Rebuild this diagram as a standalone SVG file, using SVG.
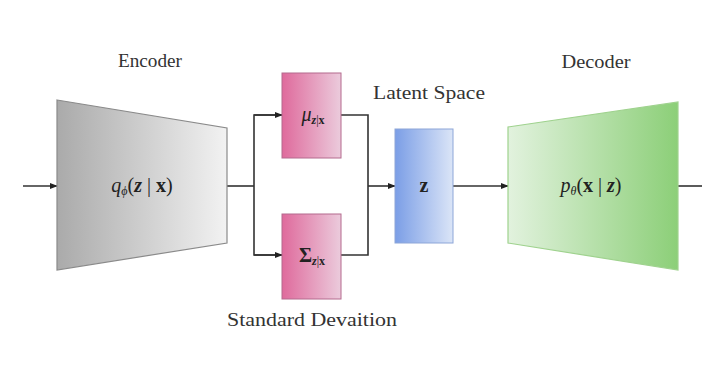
<svg xmlns="http://www.w3.org/2000/svg" width="722" height="386" viewBox="0 0 722 386">
<style>
.lbl{font-family:"Liberation Serif","DejaVu Serif",serif;font-size:18px;fill:#333;text-anchor:middle}
.math{font-family:"Liberation Serif","DejaVu Serif",serif;font-size:20px;fill:#222;text-anchor:middle}
.sub{font-size:12px}
.conn{fill:none;stroke:#333;stroke-width:1.6}
</style>
<defs>
<linearGradient id="gEnc" x1="0" x2="1" y1="0" y2="0"><stop offset="0" stop-color="#aaaaaa"/><stop offset="1" stop-color="#f2f2f2"/></linearGradient>
<linearGradient id="gPink" x1="0" x2="1" y1="0" y2="0"><stop offset="0" stop-color="#df6a9c"/><stop offset="1" stop-color="#ebcbdc"/></linearGradient>
<linearGradient id="gBlue" x1="0" x2="1" y1="0" y2="0"><stop offset="0" stop-color="#7b9ee6"/><stop offset="1" stop-color="#dbe5f7"/></linearGradient>
<linearGradient id="gGreen" x1="0" x2="1" y1="0" y2="0"><stop offset="0" stop-color="#e2f2de"/><stop offset="1" stop-color="#8ccf78"/></linearGradient>
<marker id="arr" viewBox="0 0 10 10" refX="9" refY="5" markerWidth="8" markerHeight="8" orient="auto" markerUnits="userSpaceOnUse"><path d="M0,1 L10,5 L0,9 z" fill="#222"/></marker>
</defs>
<rect width="722" height="386" fill="#ffffff"/>
<g id="connectors">
<line class="conn" x1="23" y1="186" x2="57" y2="186" marker-end="url(#arr)"/>
<polyline class="conn" points="227,186 254,186"/>
<polyline class="conn" points="282,115 254,115 254,255 282,255"/>
<line class="conn" x1="254" y1="115" x2="282" y2="115" marker-end="url(#arr)"/>
<line class="conn" x1="254" y1="255" x2="282" y2="255" marker-end="url(#arr)"/>
<polyline class="conn" points="341,115 368,115 368,255 341,255"/>
<line class="conn" x1="368" y1="186" x2="395" y2="186" marker-end="url(#arr)"/>
<line class="conn" x1="453" y1="186" x2="508" y2="186" marker-end="url(#arr)"/>
<line class="conn" x1="678" y1="186" x2="702" y2="186"/>
</g>
<g id="encoder">
<polygon points="57,100 227,128 227,243 57,270" fill="url(#gEnc)" stroke="#8a8a8a" stroke-width="1.2"/>
<text class="math" x="142" y="192"><tspan font-style="italic">q</tspan><tspan class="sub" font-style="italic" dy="3">ϕ</tspan><tspan dy="-3">(</tspan><tspan font-weight="bold" font-style="italic">z</tspan><tspan> | </tspan><tspan font-weight="bold">x</tspan><tspan>)</tspan></text>
<text class="lbl" x="150" y="67" textLength="64" lengthAdjust="spacingAndGlyphs">Encoder</text>
</g>
<g id="mu">
<rect x="282" y="73" width="59" height="85" fill="url(#gPink)" stroke="#b46b8e" stroke-width="1"/>
<text class="math" x="313" y="121"><tspan font-style="italic">μ</tspan><tspan class="sub" dy="3"><tspan font-weight="bold" font-style="italic">z</tspan>|<tspan font-weight="bold">x</tspan></tspan></text>
</g>
<g id="sigma">
<rect x="282" y="214" width="59" height="85" fill="url(#gPink)" stroke="#b46b8e" stroke-width="1"/>
<text class="math" x="312" y="262"><tspan font-weight="bold">Σ</tspan><tspan class="sub" dy="3"><tspan font-weight="bold" font-style="italic">z</tspan>|<tspan font-weight="bold">x</tspan></tspan></text>
</g>
<g id="latent">
<rect x="395" y="129" width="58" height="114" fill="url(#gBlue)" stroke="#8da6d8" stroke-width="1"/>
<text class="math" x="424" y="192" font-weight="bold" font-size="22">z</text>
<text class="lbl" x="429" y="99" textLength="112" lengthAdjust="spacingAndGlyphs">Latent Space</text>
</g>
<g id="decoder">
<polygon points="508,127 678,102 678,270 508,243" fill="url(#gGreen)" stroke="#9fd28e" stroke-width="1.2"/>
<text class="math" x="591" y="192"><tspan font-style="italic">p</tspan><tspan class="sub" font-style="italic" dy="3">θ</tspan><tspan dy="-3">(</tspan><tspan font-weight="bold">x</tspan><tspan> | </tspan><tspan font-weight="bold" font-style="italic">z</tspan><tspan>)</tspan></text>
<text class="lbl" x="596" y="68" textLength="69" lengthAdjust="spacingAndGlyphs">Decoder</text>
</g>
<g id="std-label">
<text class="lbl" x="312" y="326" textLength="170" lengthAdjust="spacingAndGlyphs">Standard Devaition</text>
</g>
</svg>
